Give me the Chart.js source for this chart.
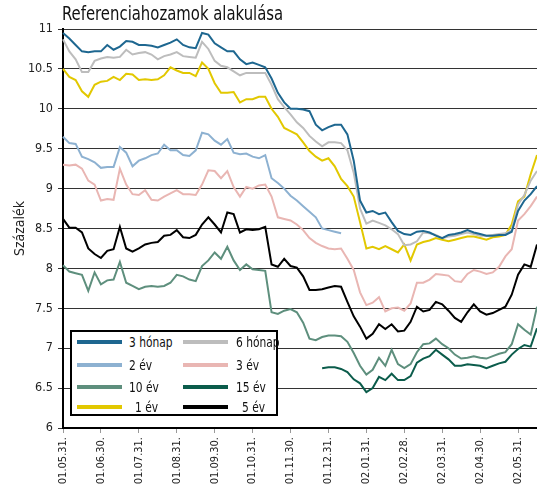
<!DOCTYPE html>
<html>
<head>
<meta charset="utf-8">
<script src="https://cdn.jsdelivr.net/npm/chart.js@4.4.1/dist/chart.umd.min.js"></script>
<style>
  body { margin: 0; background: #fff; }
  #wrap { position: relative; width: 537px; height: 485px; overflow: hidden;
          font-family: "Liberation Sans Narrow", "Arial Narrow", "DejaVu Sans Condensed", Roboto, sans-serif; color: #111; }
  #title { position: absolute; left: 62px; top: 2px; font-size: 19px; white-space: nowrap;
           transform: scaleX(0.87); transform-origin: left top; }
  #legend { position: absolute; left: 70px; top: 330px; width: 208px; height: 86px;
            border: 2px solid #000; background: #fff; box-sizing: border-box; font-size: 13.5px; }
  .sw { position: absolute; width: 45px; height: 4px; }
  .lb { position: absolute; white-space: nowrap; line-height: 16px;
        transform: scaleX(0.88); transform-origin: left top; }
</style>
</head>
<body>
<div id="wrap">
  <canvas id="chart" width="537" height="485"></canvas>
  <div id="title">Referenciahozamok alakulása</div>
  <div id="legend"></div>
</div>
<script>
// month-end tick labels, 6 samples per month
const monthLabels = ['01.05.31.', '01.06.30.', '01.07.31.', '01.08.31.', '01.09.30.', '01.10.31.',
  '01.11.30.', '01.12.31.', '02.01.31.', '02.02.28.', '02.03.31.', '02.04.30.', '02.05.31.'];
const pointsPerMonth = 6;

const honap3 = [10.95, 10.88, 10.80, 10.72, 10.71, 10.72, 10.72, 10.80, 10.74, 10.78, 10.85, 10.84, 10.80, 10.80, 10.79, 10.77,
  10.80, 10.83, 10.87, 10.80, 10.77, 10.76, 10.95, 10.93, 10.82, 10.77, 10.72, 10.72, 10.62, 10.56, 10.58,
  10.55, 10.52, 10.38, 10.20, 10.08, 10.00, 10.00, 9.99, 9.97, 9.80, 9.73, 9.77, 9.80, 9.80, 9.68,
  9.35, 8.85, 8.70, 8.72, 8.68, 8.70, 8.58, 8.47, 8.43, 8.42, 8.46, 8.47, 8.45, 8.41, 8.38,
  8.42, 8.43, 8.45, 8.48, 8.45, 8.43, 8.41, 8.41, 8.42, 8.42, 8.46, 8.72, 8.85, 8.93, 9.03];
const honap6 = [10.87, 10.72, 10.62, 10.46, 10.46, 10.60, 10.63, 10.65, 10.64, 10.65, 10.74, 10.68, 10.70, 10.71, 10.68, 10.62,
  10.66, 10.68, 10.71, 10.66, 10.65, 10.64, 10.84, 10.75, 10.60, 10.54, 10.52, 10.47, 10.42, 10.45, 10.45,
  10.45, 10.45, 10.30, 10.12, 10.02, 9.93, 9.83, 9.76, 9.66, 9.59, 9.53, 9.58, 9.58, 9.57, 9.48,
  9.20, 8.75, 8.56, 8.60, 8.57, 8.54, 8.49, 8.43, 8.29, 8.30, 8.34, 8.45, 8.44, 8.42, 8.38,
  8.40, 8.41, 8.43, 8.45, 8.43, 8.41, 8.41, 8.42, 8.43, 8.44, 8.48, 8.80, 8.92, 9.10, 9.22];
const ev1 = [10.50, 10.40, 10.36, 10.22, 10.15, 10.30, 10.34, 10.35, 10.40, 10.36, 10.44, 10.43, 10.36, 10.37, 10.36, 10.37,
  10.42, 10.52, 10.48, 10.45, 10.45, 10.41, 10.58, 10.50, 10.32, 10.20, 10.20, 10.21, 10.08, 10.12, 10.12,
  10.15, 10.15, 10.00, 9.90, 9.76, 9.72, 9.68, 9.58, 9.47, 9.40, 9.35, 9.38, 9.28, 9.12, 9.03,
  8.90, 8.58, 8.25, 8.27, 8.24, 8.28, 8.24, 8.20, 8.30, 8.10, 8.30, 8.33, 8.35, 8.38, 8.36,
  8.34, 8.36, 8.38, 8.40, 8.40, 8.38, 8.36, 8.39, 8.40, 8.42, 8.55, 8.84, 8.90, 9.18, 9.42];
const ev2 = [9.65, 9.57, 9.56, 9.40, 9.37, 9.33, 9.26, 9.27, 9.27, 9.52, 9.45, 9.28, 9.35, 9.38, 9.42, 9.44,
  9.55, 9.48, 9.48, 9.42, 9.41, 9.48, 9.70, 9.68, 9.60, 9.55, 9.62, 9.45, 9.43, 9.44, 9.40,
  9.38, 9.42, 9.13, 9.07, 9.00, 8.91, 8.85, 8.78, 8.71, 8.64, 8.50, 8.48, 8.46, 8.44].concat(Array(31).fill(null));
const ev3 = [9.30, 9.29, 9.30, 9.25, 9.10, 9.05, 8.85, 8.87, 8.86, 9.25, 9.05, 8.93, 8.92, 8.98, 8.86, 8.85,
  8.90, 8.94, 8.98, 8.93, 8.93, 8.92, 9.05, 9.23, 9.22, 9.13, 9.22, 9.02, 8.90, 9.02, 9.00,
  9.04, 9.05, 8.90, 8.64, 8.62, 8.60, 8.55, 8.48, 8.38, 8.32, 8.28, 8.25, 8.24, 8.25, 8.12,
  7.98, 7.70, 7.54, 7.57, 7.64, 7.46, 7.50, 7.51, 7.47, 7.56, 7.82, 7.82, 7.86, 7.93, 7.92,
  7.91, 7.84, 7.83, 7.93, 7.98, 7.96, 7.93, 7.95, 8.02, 8.15, 8.24, 8.60, 8.68, 8.78, 8.90];
const ev5 = [8.62, 8.51, 8.51, 8.45, 8.25, 8.18, 8.13, 8.22, 8.24, 8.52, 8.25, 8.21, 8.25, 8.30, 8.32, 8.33,
  8.41, 8.42, 8.48, 8.39, 8.38, 8.42, 8.55, 8.64, 8.55, 8.45, 8.70, 8.68, 8.45, 8.49, 8.48,
  8.49, 8.52, 8.05, 8.02, 8.12, 8.03, 8.01, 7.90, 7.73, 7.73, 7.74, 7.76, 7.78, 7.77, 7.58,
  7.40, 7.27, 7.12, 7.18, 7.30, 7.24, 7.30, 7.21, 7.22, 7.33, 7.52, 7.46, 7.48, 7.58, 7.55,
  7.47, 7.38, 7.33, 7.45, 7.55, 7.46, 7.42, 7.44, 7.48, 7.52, 7.67, 7.92, 8.05, 8.02, 8.30];
const ev10 = [8.04, 7.96, 7.94, 7.92, 7.72, 7.95, 7.80, 7.85, 7.86, 8.08, 7.82, 7.78, 7.74, 7.77, 7.78, 7.77,
  7.78, 7.82, 7.92, 7.90, 7.86, 7.84, 8.03, 8.10, 8.20, 8.12, 8.27, 8.10, 7.98, 8.05, 7.99,
  7.98, 7.97, 7.45, 7.43, 7.47, 7.49, 7.45, 7.32, 7.12, 7.10, 7.14, 7.16, 7.16, 7.15, 7.08,
  6.94, 6.78, 6.67, 6.73, 6.88, 6.78, 6.98, 6.80, 6.75, 6.80, 6.95, 7.05, 7.06, 7.12, 7.05,
  7.00, 6.92, 6.87, 6.88, 6.90, 6.88, 6.87, 6.90, 6.93, 6.95, 7.05, 7.30, 7.23, 7.17, 7.52];
const ev15 = Array(41).fill(null).concat([6.75, 6.76, 6.76, 6.74, 6.70,
  6.61, 6.56, 6.45, 6.50, 6.64, 6.60, 6.68, 6.60, 6.60, 6.65, 6.82, 6.87, 6.90, 6.98, 6.92,
  6.86, 6.78, 6.78, 6.80, 6.79, 6.78, 6.75, 6.78, 6.81, 6.83, 6.92, 6.99, 7.04, 7.02, 7.25]);

const labels = honap3.map((v, i) => i % pointsPerMonth === 0 ? (monthLabels[i / pointsPerMonth] || '') : '');

const series = [
  { label: '3 hónap', data: honap3, color: '#1e6790' },
  { label: '6 hónap', data: honap6, color: '#bdbdbd' },
  { label: '2 év', data: ev2, color: '#8db1d1' },
  { label: '3 év', data: ev3, color: '#e9b6b3' },
  { label: '10 év', data: ev10, color: '#5e8f7d' },
  { label: '15 év', data: ev15, color: '#0b5c4b' },
  { label: '1 év', data: ev1, color: '#e2c800' },
  { label: '5 év', data: ev5, color: '#000000' }
];

const fontFamily = '"Liberation Sans Narrow", "Arial Narrow", "DejaVu Sans Condensed", Roboto, sans-serif';

new Chart(document.getElementById('chart'), {
  type: 'line',
  data: {
    labels: labels,
    datasets: series.map(s => ({
      label: s.label,
      data: s.data,
      borderColor: s.color,
      borderWidth: 2,
      pointRadius: 0,
      fill: false,
      tension: 0,
      spanGaps: false
    }))
  },
  options: {
    responsive: false,
    animation: false,
    layout: { padding: { top: 29, right: 0, bottom: 0, left: 0 } },
    plugins: { legend: { display: false }, title: { display: false }, tooltip: { enabled: false } },
    scales: {
      x: {
        grid: { drawOnChartArea: false, drawTicks: true, tickLength: 5, color: '#999' },
        border: { color: '#000', width: 2 },
        ticks: {
          autoSkip: false, maxRotation: 90, minRotation: 90, padding: 4,
          color: '#222', font: { family: fontFamily, size: 11 },
          callback: function (v) { const l = this.getLabelForValue(v); return l === '' ? null : l; }
        },
        afterFit: s => { s.height = 57; s.paddingLeft = 0; s.paddingRight = 0; }
      },
      y: {
        min: 6, max: 11,
        grid: { color: '#333', lineWidth: 1, tickLength: 5 },
        border: { color: '#000', width: 2 },
        ticks: {
          stepSize: 0.5, padding: 5, color: '#222', font: { family: fontFamily, size: 12.5 },
          callback: v => String(Math.round(v * 10) / 10)
        },
        title: { display: true, text: 'Százalék', color: '#222', padding: { top: 12 }, font: { family: fontFamily, size: 14 } },
        afterFit: s => { s.width = 63; s.paddingTop = 0; s.paddingBottom = 0; }
      }
    }
  }
});

// legend box drawn inside the plot, two columns
const legendPos = [
  ['3 hónap', 0, 0], ['6 hónap', 1, 0],
  ['2 év', 0, 1], ['3 év', 1, 1],
  ['10 év', 0, 2], ['15 év', 1, 2],
  ['1 év', 0, 3], ['5 év', 1, 3]
];
const rowY = [10, 33, 55, 75];
const legendEl = document.getElementById('legend');
legendPos.forEach(([name, col, row]) => {
  const s = series.find(d => d.label === name);
  const sw = document.createElement('div');
  sw.className = 'sw';
  sw.style.left = (col ? 111 : 5) + 'px';
  sw.style.top = (rowY[row] - 2) + 'px';
  sw.style.background = s.color;
  legendEl.appendChild(sw);
  const lb = document.createElement('div');
  lb.className = 'lb';
  lb.textContent = name;
  lb.style.left = ((col ? 164 : 57) + (row === 3 ? 6 : 0)) + 'px';
  lb.style.top = (rowY[row] - 8) + 'px';
  legendEl.appendChild(lb);
});
</script>
</body>
</html>
